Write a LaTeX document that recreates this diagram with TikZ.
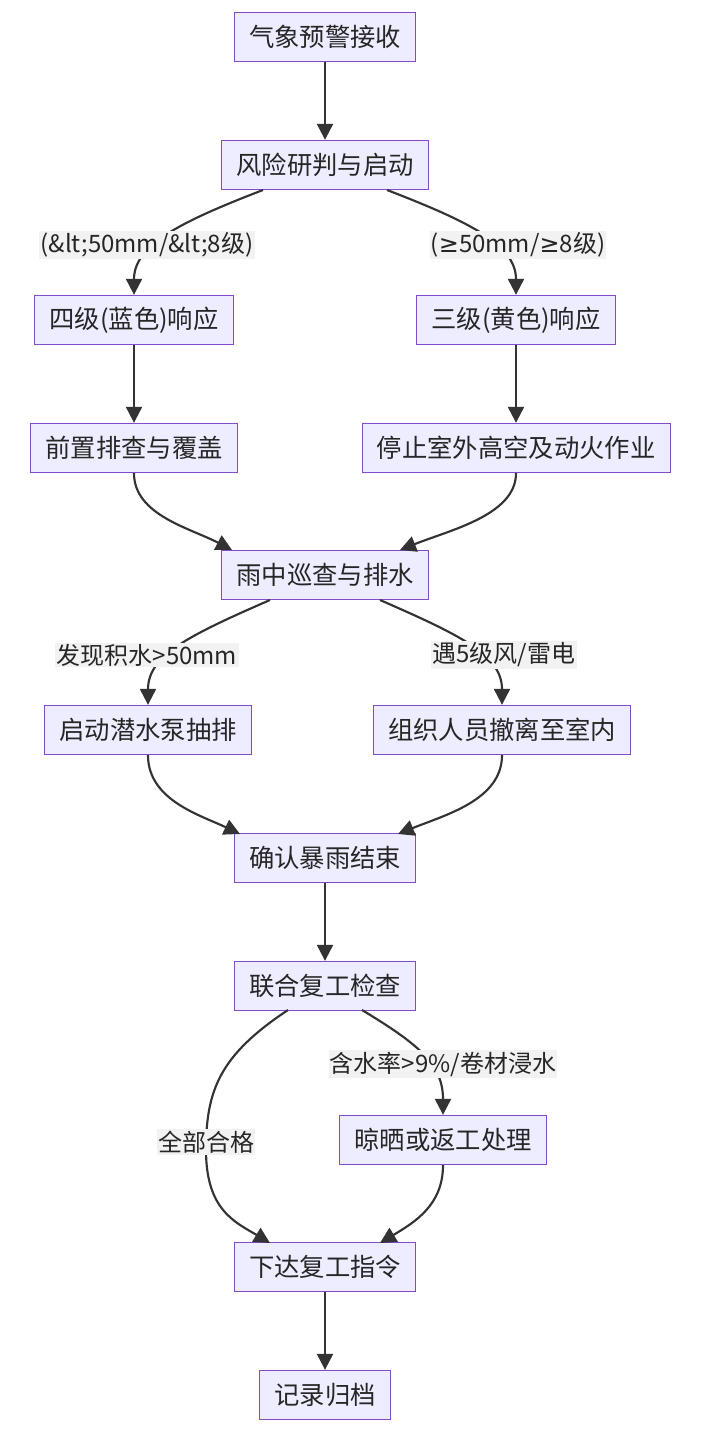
\documentclass[tikz,border=0pt]{standalone}
\usepackage{fontspec}
\setmainfont{Noto Sans CJK SC}
\newfontfamily\dv{DejaVu Sans}
\usetikzlibrary{arrows.meta}
\begin{document}
\begin{tikzpicture}[x=0.75pt,y=-0.75pt,
  box/.style={draw=violet!60!blue!70, fill=blue!7, line width=0.75pt, minimum height=37pt, inner xsep=11pt, font=\fontsize{19}{22}\selectfont, text=black!85},
  lab/.style={fill=gray!10, inner sep=1pt, font=\fontsize{18}{21}\selectfont, text=black!85},
  ar/.style={draw=black!80, line width=1.6pt, -{Triangle[length=12pt,width=12pt]}}]
\useasboundingbox (0,0) rectangle (706,1433);
\node[box] (n1) at (325,37) {气象预警接收};
\node[box] (n2) at (325,165) {风险研判与启动};
\node[box] (n3) at (134,320) {四级(蓝色)响应};
\node[box] (n4) at (516,320) {三级(黄色)响应};
\node[box] (n5) at (134,448) {前置排查与覆盖};
\node[box] (n6) at (516,448) {停止室外高空及动火作业};
\node[box] (n7) at (325,575) {雨中巡查与排水};
\node[box] (n8) at (148,730) {启动潜水泵抽排};
\node[box] (n9) at (502,730) {组织人员撤离至室内};
\node[box] (n10) at (325,858) {确认暴雨结束};
\node[box] (n11) at (325,986) {联合复工检查};
\node[box] (n12) at (443,1140) {晾晒或返工处理};
\node[box] (n13) at (325,1267) {下达复工指令};
\node[box] (n14) at (325,1395) {记录归档};
\coordinate (a2) at (263,190); \coordinate (b2) at (387,190);
\coordinate (a7) at (270,600); \coordinate (b7) at (380,600);
\coordinate (a11) at (288,1010); \coordinate (b11) at (362,1010);
\coordinate (e7l) at (232,550); \coordinate (e7r) at (400,550);
\coordinate (e10l) at (240,834); \coordinate (e10r) at (398,834);
\coordinate (e13l) at (270,1243); \coordinate (e13r) at (380,1243);
\draw[ar] (n1) -- (n2);
\draw[ar] (a2) .. controls (180,222) and (134,245) .. (n3.north);
\draw[ar] (b2) .. controls (470,222) and (516,245) .. (n4.north);
\draw[ar] (n3) -- (n5);
\draw[ar] (n4) -- (n6);
\draw[ar] (n5.south) .. controls (134,515) and (190,528) .. (e7l);
\draw[ar] (n6.south) .. controls (516,515) and (450,530) .. (e7r);
\draw[ar] (a7) .. controls (190,635) and (148,655) .. (n8.north);
\draw[ar] (b7) .. controls (460,635) and (502,655) .. (n9.north);
\draw[ar] (n8.south) .. controls (148,800) and (200,815) .. (e10l);
\draw[ar] (n9.south) .. controls (502,800) and (445,815) .. (e10r);
\draw[ar] (n10) -- (n11);
\draw[ar] (b11) .. controls (420,1045) and (443,1065) .. (n12.north);
\draw[ar] (a11) .. controls (220,1055) and (206,1090) .. (206,1150) .. controls (206,1210) and (235,1222) .. (e13l);
\draw[ar] (n12.south) .. controls (443,1205) and (415,1222) .. (e13r);
\draw[ar] (n13) -- (n14);
\node[lab] at (147,245) {(\&lt;50mm/\&lt;8级)};
\node[lab] at (518,245) {({\dv ≥}50mm/{\dv ≥}8级)};
\node[lab] at (147,655) {发现积水>50mm};
\node[lab] at (504,655) {遇5级风/雷电};
\node[lab] at (443,1064) {含水率>9\%/卷材浸水};
\node[lab] at (206,1142) {全部合格};
\end{tikzpicture}
\end{document}
